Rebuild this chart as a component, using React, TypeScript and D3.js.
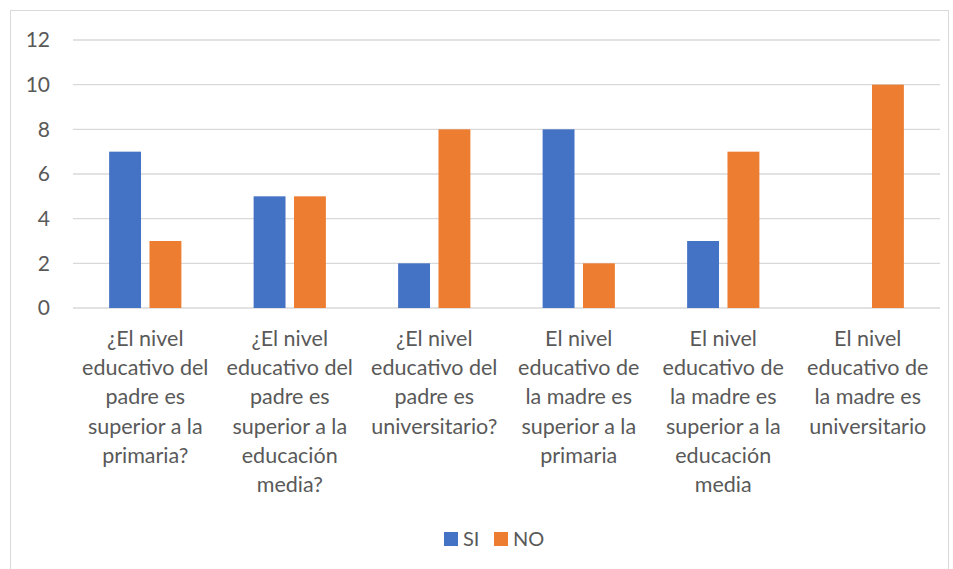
import React, { useEffect } from "react";
import * as d3 from "d3";

const categories: string[][] = [
  ["¿El nivel", "educativo del", "padre es", "superior a la", "primaria?"],
  ["¿El nivel", "educativo del", "padre es", "superior a la", "educación", "media?"],
  ["¿El nivel", "educativo del", "padre es", "universitario?"],
  ["El nivel", "educativo de", "la madre es", "superior a la", "primaria"],
  ["El nivel", "educativo de", "la madre es", "superior a la", "educación", "media"],
  ["El nivel", "educativo de", "la madre es", "universitario"],
];
const seriesNames = ["SI", "NO"];
const siValues = [7, 5, 2, 8, 3, 0];
const noValues = [3, 5, 8, 2, 7, 10];
const yTicks = [0, 2, 4, 6, 8, 10, 12];
const colors = ["#4472C4", "#ED7D31"];

const W = 953;
const H = 569;
const FONT = "Lato, 'Open Sans', sans-serif";
const TEXT = "#595959";

export default function App() {
  useEffect(() => {
    document.body.style.margin = "0";
  }, []);

  const plotLeft = 73;
  const plotRight = 940;
  const y = d3.scaleLinear().domain([0, 12]).range([308, 40]);
  const idx = categories.map((_, i) => String(i));
  const x0 = d3.scaleBand().domain(idx).range([plotLeft, plotRight]).paddingInner(0.5).paddingOuter(0.25);
  const x1 = d3.scaleBand().domain(seriesNames).range([0, x0.bandwidth()]).paddingInner(0.21);
  const values = [siValues, noValues];

  return (
    <svg width={W} height={H} style={{ display: "block", fontFamily: FONT }}>
      <rect x={0} y={0} width={W} height={H} fill="#fff" />
      <rect x={10.5} y={10.5} width={938} height={570} fill="none" stroke="#D9D9D9" strokeWidth={1} />
      {yTicks.map((t) => (
        <g key={t}>
          <line x1={plotLeft} x2={plotRight} y1={y(t)} y2={y(t)} stroke="#D9D9D9" strokeWidth={1.3} />
          <text x={50} y={y(t)} dy="0.35em" textAnchor="end" fontSize={21} fill={TEXT}>
            {t}
          </text>
        </g>
      ))}
      {categories.map((_, i) =>
        seriesNames.map((s, si) => {
          const v = values[si][i];
          if (!v) return null;
          return (
            <rect
              key={i + s}
              x={(x0(String(i)) as number) + (x1(s) as number)}
              y={y(v)}
              width={x1.bandwidth()}
              height={y(0) - y(v)}
              fill={colors[si]}
            />
          );
        })
      )}
      {categories.map((lines, i) => {
        const cx = (x0(String(i)) as number) + x0.bandwidth() / 2;
        return (
          <text key={i} textAnchor="middle" fontSize={21.5} fill={TEXT}>
            {lines.map((l, li) => (
              <tspan key={li} x={cx} y={346 + li * 29.2}>
                {l}
              </tspan>
            ))}
          </text>
        );
      })}
      <g>
        <rect x={444} y={532} width={14} height={14} fill={colors[0]} />
        <text x={463} y={539} dy="0.35em" fontSize={20} fill={TEXT}>
          {seriesNames[0]}
        </text>
        <rect x={494} y={532} width={14} height={14} fill={colors[1]} />
        <text x={513} y={539} dy="0.35em" fontSize={20} fill={TEXT}>
          {seriesNames[1]}
        </text>
      </g>
    </svg>
  );
}
